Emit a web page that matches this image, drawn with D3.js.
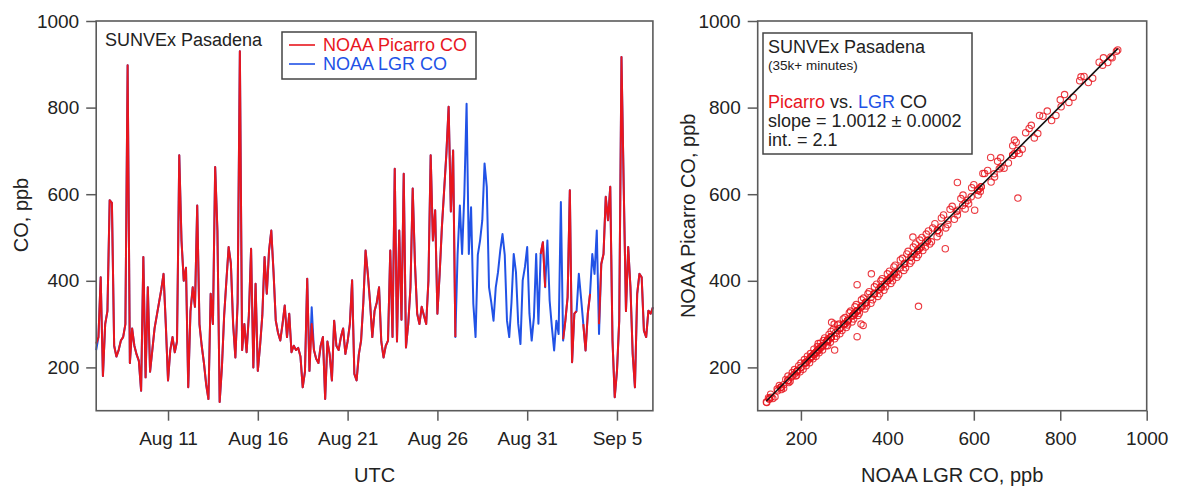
<!DOCTYPE html>
<html>
<head>
<meta charset="utf-8">
<script src="https://cdn.jsdelivr.net/npm/d3@7"></script>
<style>
body{margin:0;background:#fff}
svg{display:block;font-family:"Liberation Sans",Arial,Helvetica,sans-serif}
</style>
</head>
<body>
<div id="chart"></div>
<script>
// 3-hourly CO (ppb) starting Aug 7 00:00 UTC, one row per day
const startDate = Date.UTC(2021, 7, 7)
const stepHours = 3
const picarroCO = [
 255,270,408,180,300,330,586,580,
 250,225,240,262,270,300,898,210,
 290,250,230,215,146,455,177,385,
 190,240,290,320,350,380,416,300,
 170,240,270,235,260,690,493,400,
 430,154,330,385,340,574,300,250,
 210,160,127,370,300,663,516,120,
 200,320,400,478,440,300,223,350,
 930,240,300,235,320,474,200,393,
 192,250,320,455,370,470,516,420,
 308,280,262,300,343,270,324,235,
 250,240,245,225,154,190,405,192,
 300,240,220,210,250,270,127,260,
 230,170,308,250,240,270,290,231,
 260,300,401,185,170,230,262,350,
 470,416,350,270,330,350,385,260,
 223,250,262,470,270,659,260,516,
 310,647,246,300,385,613,440,324,
 300,340,320,300,400,690,493,563,
 324,416,524,609,694,802,560,701,
 270,null,null,null,null,null,null,null,
 null,null,null,null,null,null,null,null,
 null,null,null,null,null,null,null,null,
 null,null,null,null,null,null,null,null,
 null,null,null,null,null,null,462,489,
 385,null,null,null,null,null,null,null,
 265,308,362,609,212,324,330,null,
 null,300,239,324,370,null,null,null,
 300,439,462,594,540,617,262,131,
 192,308,917,617,330,478,385,231,
 154,370,416,408,285,270,331,324,
 339]
const lgrCO = [
 240,270,408,180,300,330,586,580,
 250,225,240,262,270,300,898,210,
 290,250,230,215,146,455,177,385,
 190,240,290,320,350,380,416,300,
 170,240,270,235,260,690,493,400,
 430,154,330,385,340,574,300,250,
 210,160,127,370,300,663,516,120,
 200,320,400,478,440,300,223,350,
 930,240,300,235,320,474,200,393,
 192,250,320,455,370,470,516,420,
 308,280,262,300,343,270,324,235,
 250,240,245,225,154,190,405,192,
 339,240,220,210,250,270,127,260,
 230,170,308,250,240,270,290,231,
 260,300,401,185,170,230,262,350,
 470,416,350,270,330,350,385,260,
 223,250,262,470,270,659,260,516,
 310,647,246,300,385,613,440,324,
 300,340,320,300,400,690,493,563,
 324,416,524,609,694,802,560,701,
 270,462,574,462,600,809,462,570,
 347,270,460,493,540,671,617,385,
 350,308,385,420,470,508,460,308,
 270,350,462,420,301,254,401,432,
 478,324,262,316,462,301,462,489,
 385,493,354,293,239,308,277,582,
 262,308,362,609,212,324,330,416,
 360,300,239,324,370,462,416,516,
 277,439,462,594,540,617,262,131,
 192,308,917,617,330,478,385,231,
 154,370,416,408,285,270,331,324,
 339]

// extra minute pairs [LGR, Picarro] showing the spread around the fit
const scatterExtra = [
 [121,119],[130,138],[140,132],[150,158],[160,152],[170,180],[175,168],[185,195],[190,182],
 [200,210],[205,196],[215,226],[220,211],[230,242],[235,226],[245,256],[250,240],[255,268],
 [262,250],[270,283],[278,266],[285,298],[290,278],[298,312],[305,292],[312,326],[318,305],
 [325,340],[332,320],[340,356],[348,335],[355,370],[362,348],[370,386],[378,364],[385,400],
 [392,378],[400,416],[408,394],[415,432],[422,408],[430,448],[438,424],[445,462],[452,440],
 [460,478],[468,454],[475,494],[482,470],[490,508],[498,485],[505,522],[515,502],[525,545],
 [535,522],[545,565],[555,542],[570,590],[580,566],[595,615],[610,598],[625,648],[640,628],
 [655,676],[670,660],[690,712],[705,694],[720,742],[740,730],[760,780],[780,770],[800,818],
 [820,812],[845,862],[865,858],[890,905],[910,904],[933,933],
 [125,130],[135,128],[145,150],[155,149],[165,172],[172,165],[180,188],[188,180],[195,204],
 [198,190],[208,218],[212,204],[222,232],[228,220],[238,248],[242,234],[252,262],[258,250],
 [265,276],[268,258],[275,288],[282,272],[288,300],[295,285],[302,315],[308,298],[315,330],
 [322,312],[328,345],[335,325],[345,360],[352,342],[358,375],[366,356],[375,392],[382,370],
 [388,405],[396,386],[405,422],[412,400],[418,436],[426,414],[435,452],[442,430],[448,468],
 [456,446],[465,485],[472,460],[480,500],[488,478],[495,515],[502,490],[510,532],[520,510],
 [530,552],[540,530],[550,572],[562,552],[575,598],[588,578],[600,622],[615,606],[632,655],
 [648,640],[662,684],[680,672],[698,720],[712,704],[728,752],[748,740],[770,792],[790,782],
 [810,830],[830,824],[855,872],[875,868],[900,915],[920,915],
 [702,591],[472,341],[639,685],[602,563],[534,474],[562,627],[459,501],[330,391],[330,271],
 [344,297],[278,240],[271,304],[363,416],[752,782],[848,871],[694,725],[621,648],[733,759]
]
const fitSlope = 1.0012, fitSlopeErr = 0.0002, fitInt = 2.1
const coTicks = [200, 400, 600, 800, 1000]
const dateTicks = ["2021-08-11", "2021-08-16", "2021-08-21", "2021-08-26", "2021-08-31", "2021-09-05"]

const red = "#e8161e", blue = "#2152e6", ink = "#222", frameCol = "#5a5a5a"
const W = 1178, H = 487
const svg = d3.select("#chart").append("svg").attr("width", W).attr("height", H)

const timeAt = i => new Date(startDate + i * stepHours * 3600e3)
const yL = d3.scaleLinear().domain([100, 1000]).range([410.7, 21])
const xL = d3.scaleUtc().domain([new Date(startDate), new Date(Date.UTC(2021, 8, 7))]).range([96.2, 652.9])
const xR = d3.scaleLinear().domain([100, 1000]).range([757.7, 1146.7])
const yR = yL.copy()
const fmt = d3.format("d")

function styleAxis(g) {
  g.select(".domain").remove()
  g.selectAll(".tick line").attr("stroke", frameCol).attr("stroke-width", 1.5)
  g.selectAll(".tick text").attr("fill", ink).style("font-size", "19px")
}

// ---- left: time series
const lineGen = d3.line().defined(d => d[1] != null).x(d => xL(d[0])).y(d => yL(d[1]))
svg.append("path").datum(lgrCO.map((v, i) => [timeAt(i), v]))
  .attr("d", lineGen).attr("fill", "none").attr("stroke", blue).attr("stroke-width", 2).attr("stroke-linejoin", "round")
svg.append("path").datum(picarroCO.map((v, i) => [timeAt(i), v]))
  .attr("d", lineGen).attr("fill", "none").attr("stroke", red).attr("stroke-width", 2).attr("stroke-linejoin", "round")

svg.append("g").attr("transform", `translate(${xL.range()[0]},0)`)
  .call(d3.axisLeft(yL).tickValues(coTicks).tickFormat(fmt).tickSize(10).tickPadding(7)).call(styleAxis)
svg.append("g").attr("transform", `translate(0,${yL.range()[0]})`)
  .call(d3.axisBottom(xL).tickValues(dateTicks.map(d3.utcParse("%Y-%m-%d"))).tickFormat(d3.utcFormat("%b %-d")).tickSize(10).tickPadding(11))
  .call(styleAxis)
svg.append("rect").attr("x", xL.range()[0]).attr("y", yL.range()[1])
  .attr("width", xL.range()[1] - xL.range()[0]).attr("height", yL.range()[0] - yL.range()[1])
  .attr("fill", "none").attr("stroke", frameCol).attr("stroke-width", 1.6)

svg.append("text").attr("x", 105).attr("y", 46).attr("fill", ink).style("font-size", "18px").text("SUNVEx Pasadena")
// legend
svg.append("rect").attr("x", 282).attr("y", 32).attr("width", 194).attr("height", 47)
  .attr("fill", "#fff").attr("stroke", "#444").attr("stroke-width", 1.5)
const legendItems = [["NOAA Picarro CO", red, 51], ["NOAA LGR CO", blue, 70]]
legendItems.forEach(([label, col, yb]) => {
  svg.append("line").attr("x1", 289).attr("x2", 315).attr("y1", yb - 6).attr("y2", yb - 6).attr("stroke", col).attr("stroke-width", 1.6)
  svg.append("text").attr("x", 323).attr("y", yb).attr("fill", col).style("font-size", "18px").text(label)
})
svg.append("text").attr("x", (xL.range()[0] + xL.range()[1]) / 2).attr("y", 482).attr("text-anchor", "middle")
  .attr("fill", ink).style("font-size", "20px").text("UTC")
svg.append("text").attr("transform", "translate(28,215) rotate(-90)").attr("text-anchor", "middle")
  .attr("fill", ink).style("font-size", "20px").text("CO, ppb")

// ---- right: correlation
const pairs = lgrCO.map((v, i) => [v, picarroCO[i]]).filter(d => d[0] != null && d[1] != null).concat(scatterExtra)
svg.append("g").selectAll("circle").data(pairs).join("circle")
  .attr("cx", d => xR(d[0])).attr("cy", d => yR(d[1])).attr("r", 3.2)
  .attr("fill", "none").attr("stroke", red).attr("stroke-width", 1.1).attr("stroke-opacity", 0.85)
const fitX = d3.extent(pairs, d => d[0])
svg.append("line").attr("x1", xR(fitX[0])).attr("y1", yR(fitSlope * fitX[0] + fitInt))
  .attr("x2", xR(fitX[1])).attr("y2", yR(fitSlope * fitX[1] + fitInt))
  .attr("stroke", "#111").attr("stroke-width", 1.5)

svg.append("g").attr("transform", `translate(${xR.range()[0]},0)`)
  .call(d3.axisLeft(yR).tickValues(coTicks).tickFormat(fmt).tickSize(10).tickPadding(7)).call(styleAxis)
svg.append("g").attr("transform", `translate(0,${yR.range()[0]})`)
  .call(d3.axisBottom(xR).tickValues(coTicks).tickFormat(fmt).tickSize(10).tickPadding(11)).call(styleAxis)
svg.append("rect").attr("x", xR.range()[0]).attr("y", yR.range()[1])
  .attr("width", xR.range()[1] - xR.range()[0]).attr("height", yR.range()[0] - yR.range()[1])
  .attr("fill", "none").attr("stroke", frameCol).attr("stroke-width", 1.6)

svg.append("rect").attr("x", 763).attr("y", 33).attr("width", 209).attr("height", 121)
  .attr("fill", "#fff").attr("stroke", "#444").attr("stroke-width", 1.5)
const note = svg.append("g").attr("fill", ink)
note.append("text").attr("x", 768).attr("y", 53).style("font-size", "18px").text("SUNVEx Pasadena")
note.append("text").attr("x", 768).attr("y", 70).style("font-size", "13.5px").text("(35k+ minutes)")
const vs = note.append("text").attr("x", 768).attr("y", 108).style("font-size", "18px")
vs.append("tspan").attr("fill", red).text("Picarro")
vs.append("tspan").text(" vs. ")
vs.append("tspan").attr("fill", blue).text("LGR")
vs.append("tspan").text(" CO")
note.append("text").attr("x", 768).attr("y", 127).style("font-size", "18px")
  .text(`slope = ${fitSlope.toFixed(4)} ± ${fitSlopeErr.toFixed(4)}`)
note.append("text").attr("x", 768).attr("y", 146).style("font-size", "18px").text(`int. = ${fitInt}`)

svg.append("text").attr("x", (xR.range()[0] + xR.range()[1]) / 2).attr("y", 482).attr("text-anchor", "middle")
  .attr("fill", ink).style("font-size", "20px").text("NOAA LGR CO, ppb")
svg.append("text").attr("transform", `translate(695,${(yR.range()[0] + yR.range()[1]) / 2}) rotate(-90)`).attr("text-anchor", "middle")
  .attr("fill", ink).style("font-size", "20px").text("NOAA Picarro CO, ppb")
</script>
</body>
</html>
